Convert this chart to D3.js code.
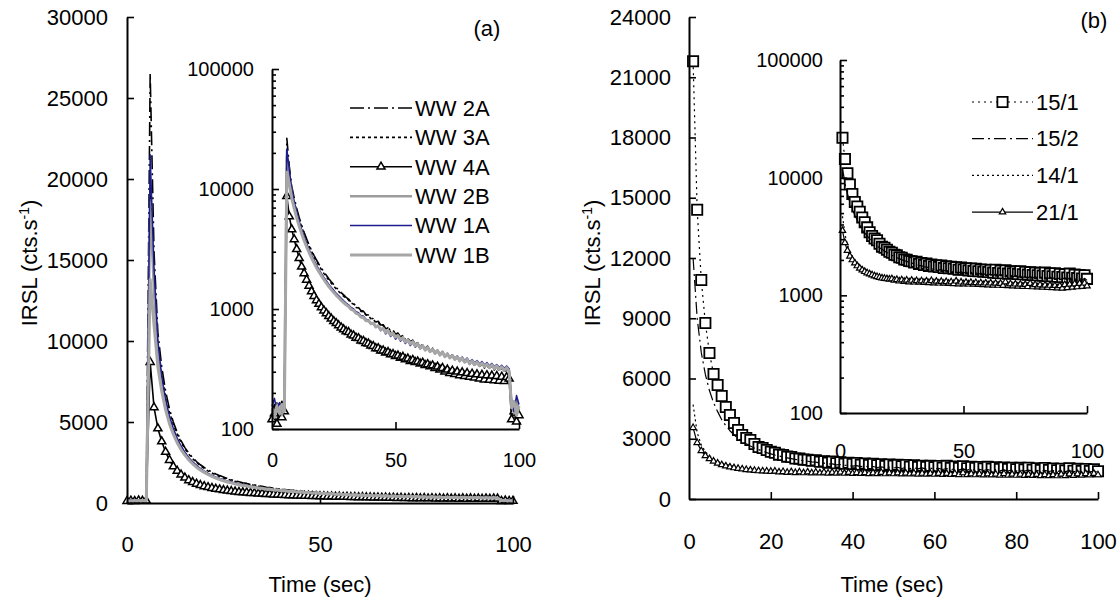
<!DOCTYPE html>
<html><head><meta charset="utf-8">
<script src="https://cdn.jsdelivr.net/npm/d3@7"></script>
<style>
body{margin:0;background:#fff}
svg text{font-family:Arial,"Liberation Sans",sans-serif;fill:#000}
</style></head>
<body><svg id="c" width="1119" height="601"></svg>
<script>
// ---------- DATA ----------
const timeA = d3.range(0, 101);   // seconds, panel (a)
const timeB = d3.range(1, 101);   // seconds, panel (b)

const namesA = ["WW 2A","WW 3A","WW 4A","WW 2B","WW 1A","WW 1B"];
const ww2A = [140,160,130,150,170,145,
26500,15500,10500,8400,6900,5800,5000,4350,3850,3420,
3080,2800,2560,2360,2190,2040,1910,1790,1690,1600,
1510,1440,1370,1310,1250,
1210,1140,1120,1050,1030,970,960,900,890,840,
830,780,790,735,740,690,705,655,665,615,
630,585,600,555,575,535,550,510,525,490,
505,470,490,450,470,435,455,420,440,405,
425,395,410,380,400,370,385,362,378,350,
368,345,360,335,352,328,345,322,338,316,
330,310,325,305,318,300,
150,130,170,140];
const ww3A = [130,150,165,140,155,135,
19500,14000,9900,7900,6600,5600,4850,4250,3750,3350,
3020,2740,2500,2300,2130,1980,1850,1740,1640,1550,
1470,1400,1335,1280,1225,
1190,1120,1100,1030,1020,955,950,890,880,830,
825,770,780,720,735,680,700,640,660,610,
625,575,600,545,570,525,545,500,520,480,
500,460,485,445,470,430,455,415,440,400,
420,390,410,375,398,365,385,355,375,345,
362,338,355,330,348,322,342,316,335,310,
328,305,320,300,315,296,
135,160,125,150];
const ww4A = [120,135,110,150,125,140,
8700,5900,4600,3800,3150,2650,2250,1980,1750,1560,
1400,1280,1180,1100,1030,970,920,870,830,790,
760,730,700,675,650,
640,610,600,575,570,545,540,520,515,495,
490,470,470,450,450,432,436,418,420,405,
408,392,398,380,385,368,375,360,364,350,
356,340,346,332,338,322,330,312,322,300,
312,292,305,286,300,280,296,276,292,272,
288,268,285,262,282,258,280,256,278,254,
276,252,272,250,270,262,
120,140,115,130];
const ww2B = [150,135,160,145,130,165,
18600,13000,9300,7400,6100,5150,4450,3880,3420,3050,
2740,2480,2260,2080,1920,1780,1660,1560,1470,1390,
1320,1255,1195,1140,1095,
1070,1000,990,925,915,860,860,805,805,760,
765,715,725,675,690,640,660,610,630,585,
600,560,580,535,555,515,535,495,515,475,
495,458,480,442,465,428,452,415,440,402,
425,392,412,382,402,372,392,362,382,352,
372,345,365,338,358,332,350,326,345,320,
338,315,332,310,328,305,
160,135,175,145];
const ww1A = [155,180,140,165,150,175,
21500,14500,10000,7800,6400,5350,4600,4000,3520,3130,
2800,2540,2320,2130,1970,1830,1710,1600,1510,1430,
1350,1290,1230,1170,1120,
1080,1030,1000,950,930,880,870,820,810,760,
760,700,720,660,690,620,650,590,620,560,
590,540,565,515,545,495,525,480,505,465,
490,450,475,440,460,425,450,415,440,405,
425,395,415,385,405,378,398,370,390,362,
380,355,372,348,365,342,358,336,352,330,
345,325,340,320,335,318,
170,140,190,160];
const ww1B = [145,125,155,135,160,140,
13800,11000,8400,6900,5750,4900,4250,3720,3300,2960,
2660,2420,2210,2040,1890,1760,1640,1540,1450,1370,
1300,1240,1180,1130,1085,
1050,995,975,920,905,855,850,800,800,755,
760,712,722,672,688,638,656,608,628,582,
598,556,578,532,552,512,532,492,512,472,
492,455,476,440,462,426,450,413,438,400,
422,390,410,380,400,370,390,360,380,350,
370,343,362,336,355,330,348,324,342,318,
336,313,330,308,325,303,
150,170,130,155];

const namesB = ["15/1","15/2","14/1","21/1"];
const s15_1 = [21800,14400,10900,8760,7270,6220,5680,5130,4580,4180,
3780,3440,3190,3040,2940,2740,2590,2540,2440,2350,
2300,2210,2190,2110,2090,2020,2010,1960,1950,1900,
1930,1850,1880,1810,1860,1780,1830,1760,1800,1740,
1790,1710,1770,1700,1750,1680,1730,1650,1720,1660,
1700,1630,1690,1610,1680,1600,1660,1590,1650,1580,
1640,1560,1650,1550,1620,1540,1630,1530,1600,1540,
1590,1520,1600,1510,1580,1500,1570,1490,1560,1480,
1550,1470,1560,1460,1530,1450,1540,1440,1520,1430,
1510,1420,1530,1410,1500,1400,1490,1390,1480,1380];
const s15_2 = [12000,9000,7300,6200,5400,4800,4350,3950,3650,3400,
3200,3020,2870,2750,2640,2540,2460,2380,2310,2250,
2190,2140,2090,2050,2010,1970,1940,1910,1880,1850,
1840,1790,1790,1740,1750,1700,1710,1670,1690,1640,
1660,1610,1640,1590,1620,1570,1600,1550,1590,1540,
1580,1520,1570,1510,1560,1500,1550,1490,1540,1480,
1530,1470,1520,1460,1510,1450,1500,1440,1490,1430,
1480,1420,1470,1410,1460,1400,1450,1395,1445,1390,
1440,1385,1435,1380,1430,1375,1425,1370,1420,1365,
1415,1360,1410,1355,1405,1350,1400,1345,1395,1340];
const s14_1 = [4700,3300,2700,2350,2150,2000,1880,1800,1730,1670,
1630,1590,1560,1530,1500,1480,1460,1445,1430,1420,
1430,1390,1410,1370,1400,1360,1390,1350,1380,1345,
1375,1340,1370,1335,1365,1330,1360,1325,1355,1320,
1350,1315,1345,1310,1340,1305,1335,1300,1330,1300,
1330,1295,1325,1290,1320,1290,1318,1285,1315,1282,
1312,1280,1310,1278,1308,1275,1305,1272,1302,1270,
1300,1268,1298,1265,1295,1262,1292,1260,1290,1258,
1288,1256,1286,1254,1284,1252,1282,1250,1280,1248,
1278,1246,1276,1244,1274,1242,1272,1240,1270,1238];
const s21_1 = [3550,2800,2400,2150,2000,1880,1780,1700,1640,1590,
1550,1520,1490,1460,1440,1420,1400,1390,1380,1370,
1380,1340,1360,1320,1350,1310,1345,1300,1340,1295,
1330,1290,1325,1285,1320,1280,1330,1275,1315,1270,
1310,1265,1305,1260,1300,1255,1320,1250,1295,1250,
1290,1245,1285,1240,1280,1235,1275,1230,1270,1225,
1270,1220,1265,1215,1260,1210,1300,1205,1250,1200,
1245,1195,1240,1190,1235,1185,1260,1180,1230,1175,
1225,1170,1220,1165,1215,1160,1210,1155,1205,1150,
1230,1160,1240,1170,1250,1180,1260,1190,1270,1200];

const ticksA = [0,5000,10000,15000,20000,25000,30000];
const ticksB = [0,3000,6000,9000,12000,15000,18000,21000,24000];
const ticksXA = [0,50,100];
const ticksXB = [0,20,40,60,80,100];
const ticksXInset = [0,50,100];

// ---------- STYLES ----------
const FS = 22;
const stylesA = [
  {color:"#000", w:1.6, dash:"14,4,2,4"},
  {color:"#000", w:1.6, dash:"3,3"},
  {color:"#000", w:1.6, marker:d3.symbolTriangle, size:28, mw:1.5},
  {color:"#9c9c9c", w:2.5},
  {color:"#1c1c8e", w:1.5},
  {color:"#a6a6a6", w:3}
];
const stylesB = [
  {color:"#000", w:1.2, dash:"2,4", marker:d3.symbolSquare, size:105, mw:1.8},
  {color:"#000", w:1.2, dash:"12,4,2,4"},
  {color:"#000", w:1.2, dash:"2,3"},
  {color:"#000", w:1.2, marker:d3.symbolTriangle, size:18, mw:1.2}
];

const svg = d3.select("#c");

function styleAxis(g, fs){
  g.attr("font-size", fs).attr("font-family", "Arial, 'Liberation Sans', sans-serif");
  g.select(".domain").attr("stroke-width", 2).attr("stroke","#000");
  g.selectAll(".tick line").attr("stroke-width", 1.6).attr("stroke","#000");
  g.selectAll(".tick text").attr("fill","#000");
}

function isDecade(d){ return Math.abs(Math.log10(d) % 1) < 1e-9; }

function axes(x, y, opts){
  const x0 = x.range()[0], y0 = y.range()[0];
  let ay = d3.axisLeft(y).tickSizeInner(-7).tickSizeOuter(0).tickPadding(opts.yPad);
  if (opts.log){
    ay = ay.tickValues(y.ticks()).tickFormat(d => isDecade(d) ? d3.format("d")(d) : "");
  } else {
    ay = ay.tickValues(opts.yTicks).tickFormat(d3.format("d"));
  }
  const gy = svg.append("g").attr("transform", `translate(${x0},0)`).call(ay);
  styleAxis(gy, opts.fs);
  if (opts.log){
    gy.selectAll(".tick").each(function(d){
      if (!isDecade(d)) d3.select(this).select("line").attr("x2", 4);
    });
  }
  const ax = d3.axisBottom(x).tickValues(opts.xTicks).tickSizeInner(-7).tickSizeOuter(0).tickPadding(opts.xPad).tickFormat(d3.format("d"));
  const gx = svg.append("g").attr("transform", `translate(0,${y0})`).call(ax);
  styleAxis(gx, opts.fs);
  if (opts.hideX0) gx.selectAll(".tick line").filter(d => d === 0).remove();
}

function series(x, y, time, vals, st){
  const line = d3.line().x((d,i) => x(time[i])).y(d => y(d));
  svg.append("path").datum(vals).attr("d", line)
    .attr("fill","none").attr("stroke", st.color).attr("stroke-width", st.w)
    .attr("stroke-linejoin","round")
    .attr("stroke-dasharray", st.dash || null);
  if (st.marker){
    svg.append("g").selectAll("path").data(vals).join("path")
      .attr("transform", (d,i) => `translate(${x(time[i])},${y(d)})`)
      .attr("d", d3.symbol(st.marker, st.size)())
      .attr("fill","#fff").attr("stroke","#000").attr("stroke-width", st.mw);
  }
}

function legend(names, styles, x1, x2, y0, dy, fs){
  names.forEach((n,i) => {
    const y = y0 + i*dy, st = styles[i];
    svg.append("line").attr("x1",x1).attr("x2",x2).attr("y1",y).attr("y2",y)
      .attr("stroke", st.color).attr("stroke-width", st.w).attr("stroke-dasharray", st.dash || null);
    if (st.marker){
      svg.append("path").attr("transform", `translate(${(x1+x2)/2},${y})`)
        .attr("d", d3.symbol(st.marker, st.size)()).attr("fill","#fff").attr("stroke","#000").attr("stroke-width", st.mw);
    }
    svg.append("text").attr("x", x2+3).attr("y", y).attr("dy","0.35em").attr("font-size", fs).text(n);
  });
}

function yTitle(cx, cy){
  const t = svg.append("text").attr("transform", `translate(${cx},${cy}) rotate(-90)`)
    .attr("text-anchor","middle").attr("dy","0.35em").attr("font-size", FS);
  t.append("tspan").text("IRSL (cts.s");
  t.append("tspan").attr("baseline-shift","super").attr("font-size", 14).text("-1");
  t.append("tspan").text(")");
}

// ---------- PANEL (a) ----------
const seriesA = [ww2A, ww3A, ww4A, ww2B, ww1A, ww1B];
const xA = d3.scaleLinear([0,100],[127,513]);
const yA = d3.scaleLinear([0,30000],[503,17]);
seriesA.forEach((s,i) => series(xA, yA, timeA, s, stylesA[i]));
axes(xA, yA, {yTicks: ticksA, xTicks: ticksXA, fs: FS, yPad: 19, xPad: 33, hideX0: true});

const xAi = d3.scaleLinear([0,100],[272,519]);
const yAi = d3.scaleLog([100,100000],[429,69]);
seriesA.forEach((s,i) => series(xAi, yAi, timeA, s, stylesA[i]));
axes(xAi, yAi, {log:true, xTicks: ticksXInset, fs: 20, yPad: 18, xPad: 24, hideX0: true});

legend(namesA, stylesA, 350, 412, 108, 29.4, FS);
svg.append("text").attr("x",487).attr("y",28).attr("dy","0.35em").attr("text-anchor","middle").attr("font-size",FS).text("(a)");
svg.append("text").attr("x",320).attr("y",584).attr("dy","0.35em").attr("text-anchor","middle").attr("font-size",FS).text("Time (sec)");
yTitle(29, 263);

// ---------- PANEL (b) ----------
const seriesB = [s15_1, s15_2, s14_1, s21_1];
const xB = d3.scaleLinear([0,100],[689,1098]);
const yB = d3.scaleLinear([0,24000],[499,17]);
seriesB.forEach((s,i) => series(xB, yB, timeB, s, stylesB[i]));
axes(xB, yB, {yTicks: ticksB, xTicks: ticksXB, fs: FS, yPad: 18, xPad: 34, hideX0: true});

const xBi = d3.scaleLinear([0,100],[840,1087]);
const yBi = d3.scaleLog([100,100000],[413,60]);
seriesB.forEach((s,i) => series(xBi, yBi, timeB, s, stylesB[i]));
axes(xBi, yBi, {log:true, xTicks: ticksXInset, fs: 20, yPad: 17, xPad: 31, hideX0: true});

legend(namesB, stylesB, 972, 1033, 102, 36.7, FS);
svg.append("text").attr("x",1094).attr("y",20).attr("dy","0.35em").attr("text-anchor","middle").attr("font-size",FS).text("(b)");
svg.append("text").attr("x",892).attr("y",584).attr("dy","0.35em").attr("text-anchor","middle").attr("font-size",FS).text("Time (sec)");
yTitle(592, 263);
</script>
</body></html>
